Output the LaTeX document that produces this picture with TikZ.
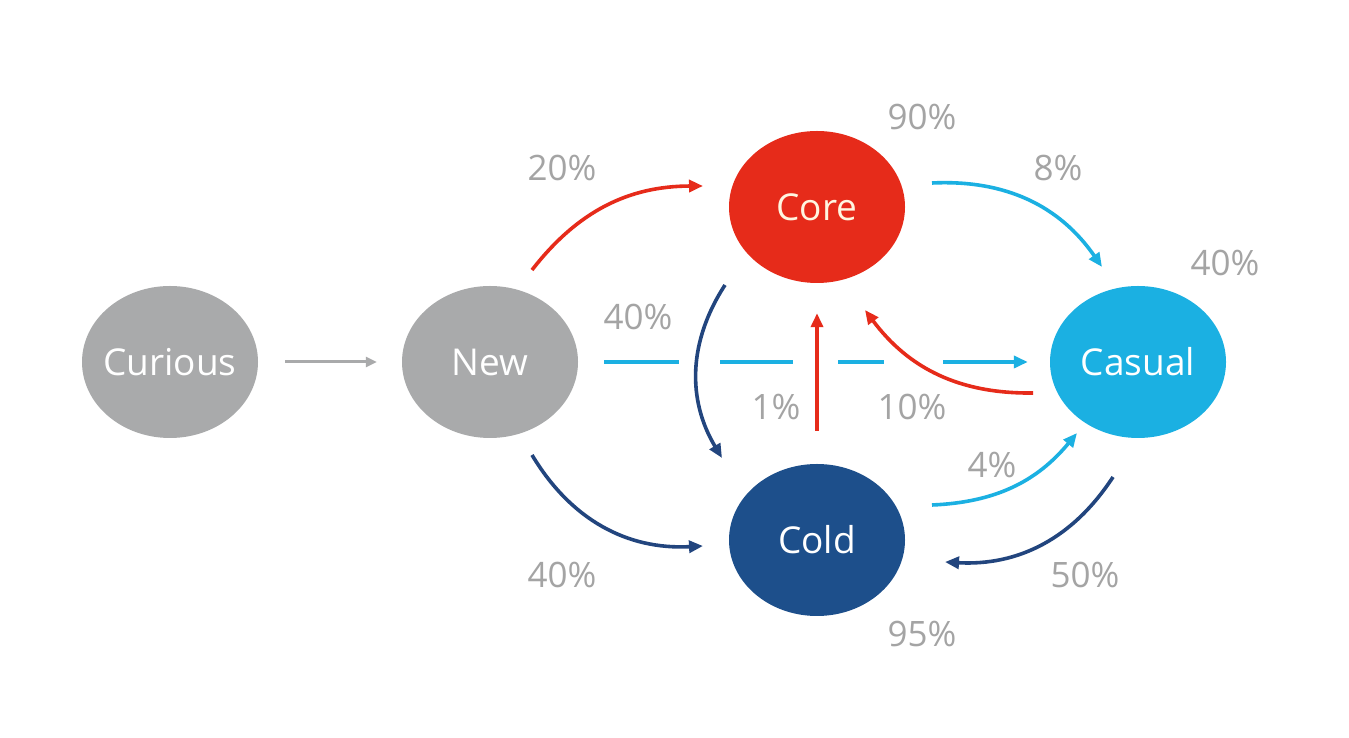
\documentclass[tikz,border=0pt]{standalone}
\usepackage{fontspec}
\setmainfont{Open Sans}
\usetikzlibrary{shapes.geometric,arrows.meta,calc}
\definecolor{nodegray}{HTML}{A9AAAB}
\definecolor{corered}{HTML}{E62B1A}
\definecolor{casualcyan}{HTML}{1BB0E2}
\definecolor{colddark}{HTML}{1D4F8B}
\definecolor{arrowdark}{HTML}{22457E}
\definecolor{labelgray}{HTML}{A4A4A4}
\definecolor{textcream}{HTML}{FFF6E0}
\begin{document}
\begin{tikzpicture}[x=1pt,y=1pt,
  state/.style={ellipse,minimum width=176pt,minimum height=152pt,inner sep=-8pt,
    font=\fontsize{37}{40}\selectfont,text=white},
  pct/.style={font=\fontsize{35}{38}\selectfont,text=labelgray,inner sep=0pt},
  conn/.style={line width=3.6pt,-{Triangle[length=14pt,width=12pt]}},
]
\useasboundingbox (0,0) rectangle (1349,738);
\fill[white] (0,0) rectangle (1349,738);

% states
\node[state,fill=nodegray] (Curious) at (170,376) {Curious};
\node[state,fill=nodegray] (New) at (490,376) {New};
\node[state,fill=corered,text=textcream] (Core) at (817,531) {Core};
\node[state,fill=casualcyan] (Casual) at (1138,376) {Casual};
\node[state,fill=colddark] (Cold) at (817,198) {Cold};

% connector end points, placed relative to the states
\coordinate (nc1) at ($(New)+(42,92)$);
\coordinate (nc2) at ($(Core)+(-114,21)$);
\coordinate (cc1) at ($(Core)+(115,24)$);
\coordinate (cc2) at ($(Casual)+(-36,95)$);
\coordinate (nd1) at ($(New)+(42,-93)$);
\coordinate (nd2) at ($(Cold)+(-114,-6)$);
\coordinate (ad1) at ($(Casual)+(-25,-115)$);
\coordinate (ad2) at ($(Cold)+(128,-22)$);
\coordinate (da1) at ($(Cold)+(115,35)$);
\coordinate (da2) at ($(Casual)+(-61,-71)$);
\coordinate (rd1) at ($(Core)+(-92,-78)$);
\coordinate (rd2) at ($(Cold)+(-95,82)$);
\coordinate (ar1) at ($(Casual)+(-105,-31)$);
\coordinate (ar2) at ($(Core)+(48,-103)$);

% connectors
\draw[conn,nodegray,line width=3pt,-{Triangle[length=11pt,width=10pt]},
  shorten <=27pt,shorten >=25pt] (Curious.east) -- (New.west);
\draw[conn,casualcyan,dash pattern=on 75pt off 41pt on 73pt off 45pt on 46pt off 59pt on 200pt,
  shorten <=26pt,shorten >=22pt] (New.east) -- (Casual.west);
\draw[conn,corered] (nc1) to[bend left=26] (nc2);
\draw[conn,casualcyan] (cc1) to[bend left=29] (cc2);
\draw[conn,arrowdark] (nd1) to[bend right=31] (nd2);
\draw[conn,arrowdark] (ad1) to[bend left=30] (ad2);
\draw[conn,casualcyan] (da1) to[bend right=24] (da2);
\draw[conn,arrowdark] (rd1) to[bend right=32] (rd2);
\draw[conn,corered,shorten <=33pt,shorten >=30pt]
  (Cold.north) -- (Core.south);
\draw[conn,corered] (ar1) to[bend left=27] (ar2);

% labels
\node[pct] (l90) at (922,621) {90\%};
\node[pct] (l20) at (562,570) {20\%};
\node[pct] (l8) at (1058,570) {8\%};
\node[pct] (l40r) at (1225,475) {40\%};
\node[pct] (l40m) at (638,421) {40\%};
\node[pct] (l1) at (776,331) {1\%};
\node[pct] (l10) at (912,331) {10\%};
\node[pct] (l4) at (992,273) {4\%};
\node[pct] (l40b) at (562,163) {40\%};
\node[pct] (l50) at (1085,163) {50\%};
\node[pct] (l95) at (922,104) {95\%};
\end{tikzpicture}
\end{document}
